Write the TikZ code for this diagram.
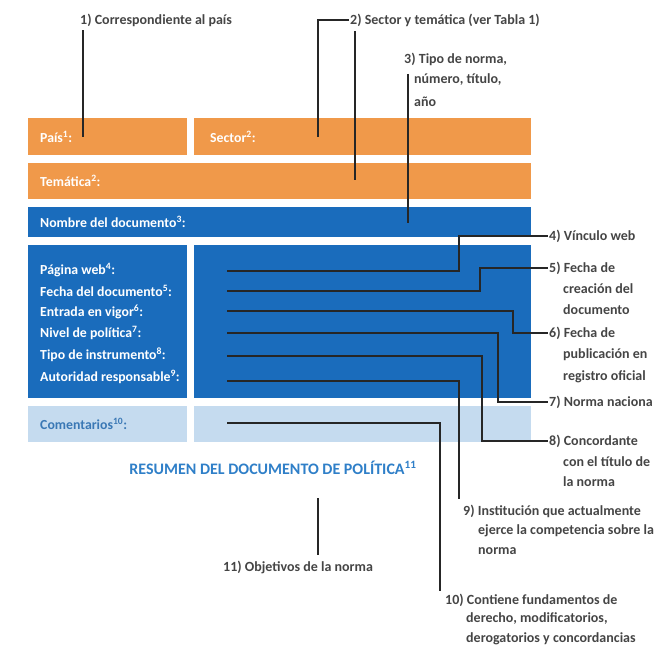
\documentclass[tikz,border=0pt]{standalone}
\usepackage{fontspec}
\setmainfont{Carlito}
\usetikzlibrary{calc}
\definecolor{orangebox}{HTML}{F0994A}
\definecolor{bluebox}{HTML}{1A6CBC}
\definecolor{lightbox}{HTML}{C5DBEF}
\definecolor{comtext}{HTML}{3A78B5}
\definecolor{restext}{HTML}{2F7FC8}
\definecolor{linec}{HTML}{262626}
\definecolor{anntext}{HTML}{454545}
\begin{document}
\begin{tikzpicture}[x=1pt,y=-1pt,
  boxlbl/.style={anchor=west, text=white, font=\bfseries\fontsize{13.8}{16}\selectfont, inner sep=0pt},
  ann/.style={anchor=west, text=anntext, font=\bfseries\fontsize{14}{17}\selectfont, inner sep=0pt},
  conn/.style={draw=linec, line width=1.4pt}]
\useasboundingbox (0,0) rectangle (654,648);
% boxes
\fill[orangebox] (28,118) rectangle (187,155);
\fill[orangebox] (194,118) rectangle (531,155);
\fill[orangebox] (28,163) rectangle (531,199);
\fill[bluebox] (28,207) rectangle (531,237);
\fill[bluebox] (28,245) rectangle (187,398);
\fill[bluebox] (194,245) rectangle (531,398);
\fill[lightbox] (28,406) rectangle (187,442);
\fill[lightbox] (194,406) rectangle (531,442);
% box labels
\node[boxlbl] (tpais) at (40,137) {País\textsuperscript{1}:};
\node[boxlbl] (tsector) at (210,137) {Sector\textsuperscript{2}:};
\node[boxlbl] (ttem) at (40,181) {Temática\textsuperscript{2}:};
\node[boxlbl] (tnom) at (40,222) {Nombre del documento\textsuperscript{3}:};
\node[boxlbl] (tpag) at (40,270) {Página web\textsuperscript{4}:};
\node[boxlbl] (tfec) at (40,291) {Fecha del documento\textsuperscript{5}:};
\node[boxlbl] (tent) at (40,312) {Entrada en vigor\textsuperscript{6}:};
\node[boxlbl] (tniv) at (40,333) {Nivel de política\textsuperscript{7}:};
\node[boxlbl] (ttip) at (40,355) {Tipo de instrumento\textsuperscript{8}:};
\node[boxlbl] (taut) at (40,377) {Autoridad responsable\textsuperscript{9}:};
\node[boxlbl, text=comtext] (tcom) at (40,424) {Comentarios\textsuperscript{10}:};
\node[text=restext, font=\bfseries\fontsize{16}{19}\selectfont, inner sep=0pt] (res) at (273,468) {RESUMEN DEL DOCUMENTO DE POLÍTICA\textsuperscript{11}};
% annotation labels
\node[ann] (l1) at (80,20) {1) Correspondiente al país};
\node[ann] (l2) at (350,20) {2) Sector y temática (ver Tabla 1)};
\node[ann] (l3) at (404,59) {3) Tipo de norma,};
\node[ann] (l3b) at (414,80) {número, título,};
\node[ann] (l3c) at (414,102) {año};
\node[ann] (l4) at (549,236) {4) Vínculo web};
\node[ann] (l5) at (549,268) {5) Fecha de};
\node[ann] (l5b) at (563,289) {creación del};
\node[ann] (l5c) at (563,310) {documento};
\node[ann] (l6) at (549,333) {6) Fecha de};
\node[ann] (l6b) at (563,355) {publicación en};
\node[ann] (l6c) at (563,377) {registro oficial};
\node[ann] (l7) at (549,402) {7) Norma naciona};
\node[ann] (l8) at (549,441) {8) Concordante};
\node[ann] (l8b) at (563,462) {con el título de};
\node[ann] (l8c) at (563,482) {la norma};
\node[ann] (l9) at (463,511) {9) Institución que actualmente};
\node[ann] (l9b) at (478,531) {ejerce la competencia sobre la};
\node[ann] (l9c) at (478,551) {norma};
\node[ann] (l10) at (445,600) {10) Contiene fundamentos de};
\node[ann] (l10b) at (466,619) {derecho, modificatorios,};
\node[ann] (l10c) at (466,639) {derogatorios y concordancias};
\node[ann] (l11) at (223,567) {11) Objetivos de la norma};
% coordinates
\coordinate (p1) at (83,137);
\coordinate (p2a) at (318,137);
\coordinate (p2b) at (355,180);
\coordinate (p3) at (408,223);
\coordinate (s4) at (227,271); \coordinate (k4) at (459,271);
\coordinate (s5) at (227,291); \coordinate (k5) at (480,291);
\coordinate (s6) at (227,311); \coordinate (k6) at (513,311);
\coordinate (s7) at (227,333); \coordinate (k7) at (498,333);
\coordinate (s8) at (227,356); \coordinate (k8) at (482,356);
\coordinate (s9) at (227,381); \coordinate (k9) at (459,381);
\coordinate (s10) at (227,423); \coordinate (k10) at (440,423);
\coordinate (p11) at (318,498);
% connectors
\draw[conn] ($(l1.south west -| p1)+(0,4)$) -- (p1);
\draw[conn] ([xshift=-1pt]l2.west) -- (l2.west -| p2a) -- (p2a);
\draw[conn] ($(l2.south west -| p2b)+(0,5)$) -- (p2b);
\draw[conn] (l3b.north west -| p3) -- (p3);
\draw[conn] (s4) -- (k4) |- ([xshift=-1pt]l4.west);
\draw[conn] (s5) -- (k5) |- ([xshift=-1pt]l5.west);
\draw[conn] (s6) -- (k6) |- ([xshift=-1pt]l6.west);
\draw[conn] (s7) -- (k7) |- ([xshift=-1pt]l7.west);
\draw[conn] (s8) -- (k8) |- ([xshift=-1pt]l8.west);
\draw[conn] (s9) -- (k9) -- ($(k9 |- l9.north)+(0,-6)$);
\draw[conn] (s10) -- (k10) -- ($(k10 |- l10.north)+(0,-3)$);
\draw[conn] (p11) -- ($(p11 |- l11.north)+(0,-5)$);
\end{tikzpicture}
\end{document}
